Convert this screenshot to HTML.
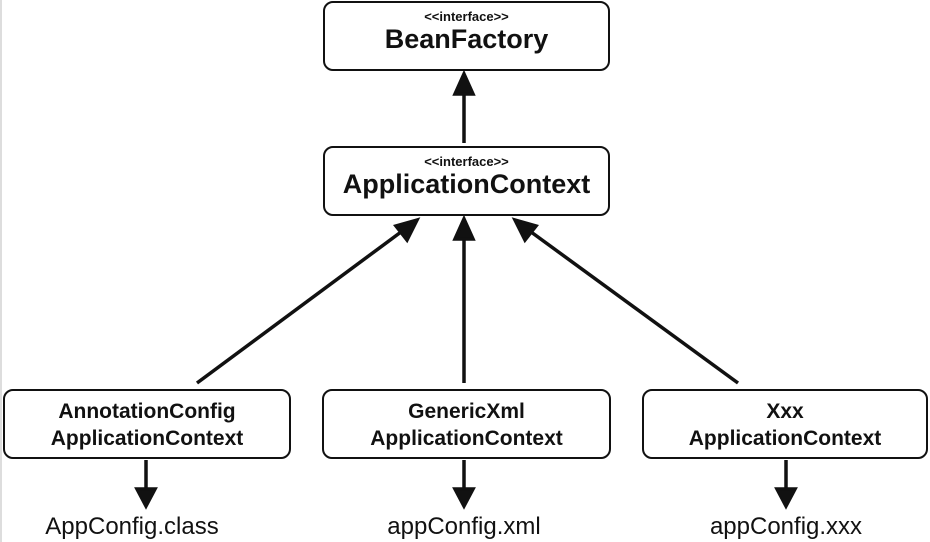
<!DOCTYPE html>
<html><head><style>
body{margin:0;width:930px;height:542px;background:#fff;overflow:hidden;font-family:"Liberation Sans",sans-serif}
.b{position:absolute;border:2.5px solid #111;border-radius:10px;box-sizing:border-box;text-align:center;color:#111}
.s{font-size:13px;font-weight:bold;line-height:14px}
.t{font-size:27px;font-weight:bold;line-height:30px}
.m{font-size:21px;font-weight:bold;line-height:27px;padding-top:7px}
.l{position:absolute;font-size:24px;color:#111;text-align:center;width:300px}
</style></head><body>
<div style="position:absolute;left:0;top:0;width:2px;height:542px;background:#ddd"></div>
<div class="b" style="left:323px;top:1px;width:287px;height:70px;padding-top:7px"><div class="s">&lt;&lt;interface&gt;&gt;</div><div class="t">BeanFactory</div></div>
<div class="b" style="left:323px;top:146px;width:287px;height:70px;padding-top:7px"><div class="s">&lt;&lt;interface&gt;&gt;</div><div class="t">ApplicationContext</div></div>
<div class="b m" style="left:3px;top:389px;width:288px;height:70px">AnnotationConfig<br>ApplicationContext</div>
<div class="b m" style="left:322px;top:389px;width:289px;height:70px">GenericXml<br>ApplicationContext</div>
<div class="b m" style="left:642px;top:389px;width:286px;height:70px">Xxx<br>ApplicationContext</div>
<div class="l" style="left:-18px;top:513px">AppConfig.class</div>
<div class="l" style="left:314px;top:513px">appConfig.xml</div>
<div class="l" style="left:636px;top:513px">appConfig.xxx</div>
<svg width="930" height="542" style="position:absolute;left:0;top:0">
<g stroke="#111" stroke-width="3.5" fill="#111">
<line x1="464" y1="143" x2="464" y2="90"/><polygon points="464,74 455,94 473,94"/>
<line x1="464" y1="383" x2="464" y2="235"/><polygon points="464,219 455,239 473,239"/>
<line x1="197" y1="383" x2="405" y2="229"/><polygon points="417,220 396,226 407,240"/>
<line x1="738" y1="383" x2="527" y2="229"/><polygon points="515,220 525,240 536,226"/>
<line x1="146" y1="460" x2="146" y2="495"/><polygon points="146,506 137,489 155,489"/>
<line x1="464" y1="460" x2="464" y2="495"/><polygon points="464,506 455,489 473,489"/>
<line x1="786" y1="460" x2="786" y2="495"/><polygon points="786,506 777,489 795,489"/>
</g></svg>
</body></html>
